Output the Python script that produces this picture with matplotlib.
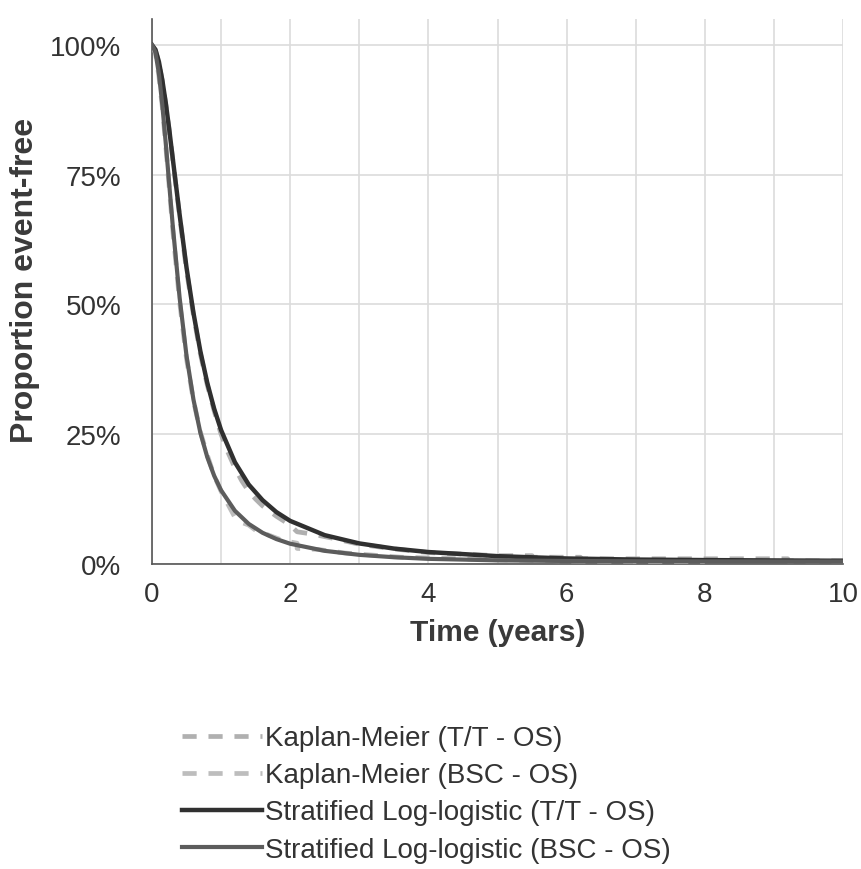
import matplotlib
matplotlib.use('Agg')
import matplotlib.pyplot as plt
from matplotlib.ticker import MultipleLocator, FuncFormatter

plt.rcParams['font.family'] = ['Liberation Sans', 'DejaVu Sans']

# Kaplan-Meier data (repeated times = steps)
km_tt_t = [0, 0.05, 0.1, 0.15, 0.2, 0.25, 0.3, 0.4, 0.5, 0.6, 0.7, 0.8, 0.9, 1.0, 1.1, 1.2, 1.3, 1.4,
           1.5, 1.6, 1.8, 2.0, 2.1, 2.3, 2.6, 3.0, 3.5, 4.0, 4.5, 5.0, 5.5, 5.5, 6.2, 6.2, 7.0,
           9.2, 9.2, 10.0]
km_tt_s = [1.0, 0.99, 0.965, 0.93, 0.885, 0.835, 0.78, 0.67, 0.565, 0.48, 0.405, 0.345, 0.295, 0.25,
           0.215, 0.185, 0.16, 0.14, 0.125, 0.112, 0.092, 0.075, 0.062, 0.058, 0.05, 0.038, 0.029,
           0.022, 0.019, 0.016, 0.016, 0.013, 0.013, 0.010, 0.010, 0.010, 0.006, 0.006]

km_bsc_t = [0, 0.05, 0.1, 0.15, 0.2, 0.25, 0.3, 0.4, 0.5, 0.6, 0.7, 0.8, 0.9, 1.0, 1.1, 1.2, 1.3,
            1.4, 1.5, 1.7, 1.9, 2.1, 2.1, 2.4, 2.8, 3.2, 3.6, 4.2, 5.0, 6.0, 7.0, 7.0, 8.0]
km_bsc_s = [1.0, 0.985, 0.94, 0.88, 0.805, 0.725, 0.645, 0.505, 0.395, 0.315, 0.255, 0.21, 0.17,
            0.14, 0.115, 0.09, 0.08, 0.075, 0.065, 0.055, 0.045, 0.04, 0.03, 0.028, 0.021, 0.017,
            0.013, 0.011, 0.008, 0.006, 0.005, 0.003, 0.003]

# Stratified log-logistic curves
fit_t = [0, 0.05, 0.1, 0.15, 0.2, 0.25, 0.3, 0.4, 0.5, 0.6, 0.7, 0.8, 0.9, 1.0, 1.2, 1.4, 1.6, 1.8,
         2.0, 2.5, 3.0, 3.5, 4.0, 5.0, 6.0, 7.0, 8.0, 9.0, 10.0]
fit_tt = [1.0, 0.991, 0.968, 0.932, 0.888, 0.837, 0.782, 0.673, 0.571, 0.484, 0.410, 0.349, 0.299,
          0.258, 0.196, 0.153, 0.123, 0.100, 0.083, 0.0555, 0.0396, 0.0297, 0.023, 0.0151, 0.0106,
          0.0085, 0.0075, 0.0068, 0.0062]
fit_bsc = [1.0, 0.986, 0.945, 0.884, 0.810, 0.731, 0.653, 0.513, 0.401, 0.317, 0.253, 0.206, 0.170,
           0.142, 0.1025, 0.0772, 0.0601, 0.048, 0.039, 0.0253, 0.0176, 0.013, 0.0099, 0.0070,
           0.0058, 0.0052, 0.0050, 0.0048, 0.0047]

labels = ['Kaplan-Meier (T/T - OS)', 'Kaplan-Meier (BSC - OS)',
          'Stratified Log-logistic (T/T - OS)', 'Stratified Log-logistic (BSC - OS)']

fig = plt.figure(figsize=(8.62, 8.70), dpi=100)
ax = fig.add_axes([0.1763, 0.3506, 0.8017, 0.6264])

ax.plot(km_tt_t, km_tt_s, color='#b0b0b0', lw=3.4, dashes=(3, 2.5), label=labels[0], zorder=3)
ax.plot(km_bsc_t, km_bsc_s, color='#bdbdbd', lw=3.4, dashes=(3, 2.5), label=labels[1], zorder=3)
ax.plot(fit_t, fit_tt, color='#303030', lw=3.2, label=labels[2], zorder=4)
ax.plot(fit_t, fit_bsc, color='#5c5c5c', lw=3.0, label=labels[3], zorder=4)

ax.set_xlim(0, 10)
ax.set_ylim(0, 1.05)
ax.xaxis.set_major_locator(MultipleLocator(2))
ax.xaxis.set_minor_locator(MultipleLocator(1))
ax.yaxis.set_major_locator(MultipleLocator(0.25))
ax.yaxis.set_major_formatter(FuncFormatter(lambda v, p: f'{v*100:.0f}%'))
ax.grid(True, which='both', color='#dcdcdc', lw=1.2)
ax.set_axisbelow(True)
for s in ['top', 'right']:
    ax.spines[s].set_visible(False)
for s in ['left', 'bottom']:
    ax.spines[s].set_color('#555555')
    ax.spines[s].set_linewidth(1.2)
ax.tick_params(which='both', length=0, labelsize=20, colors='#333333')
ax.tick_params(axis='y', pad=22)
ax.tick_params(axis='x', pad=12)

ax.set_xlabel('Time (years)', fontsize=21.5, fontweight='bold', color='#3a3a3a', labelpad=8)
ax.set_ylabel('Proportion event-free', fontsize=23, fontweight='bold', color='#3a3a3a')
ax.yaxis.set_label_coords(-0.162, 0.523)

fig.legend(loc='upper left', bbox_to_anchor=(0.198, 0.178), frameon=False, fontsize=20,
           handlelength=2.9, handletextpad=0.1, labelspacing=0.4, labelcolor='#333333',
           borderaxespad=0)

fig.savefig('out.png', dpi=100)
